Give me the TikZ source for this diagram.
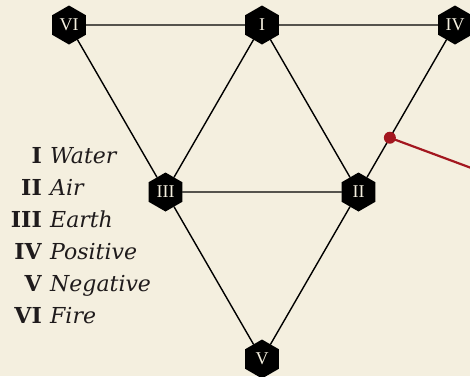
\documentclass[tikz,border=0pt]{standalone}
\usepackage{fontspec}
\setmainfont{DejaVu Serif}
\newfontfamily\hexfont{Liberation Serif}
\usetikzlibrary{shapes.geometric,calc}
\definecolor{Parchment}{HTML}{F4EFDF}
\definecolor{PinRed}{HTML}{A3171F}
\definecolor{LegendInk}{HTML}{1F1B1C}

\begin{document}
\begin{tikzpicture}[x=1pt,y=-1pt,line cap=round,
  hex/.style={regular polygon,regular polygon sides=6,shape border rotate=30,fill=black,text=Parchment,
    minimum size=39pt,inner sep=0pt,font=\hexfont\fontsize{18}{18}\selectfont},
  link/.style={line width=1.4pt},
  key/.style={inner sep=0pt,text=LegendInk}]
  \fill[Parchment] (0,0) rectangle (470,376); \useasboundingbox (0,0) rectangle (470,376);
  % hexagon corners of the triangle
  \node[hex] (VI) at (69,25) {VI}; \node[hex] (I) at (262,25) {I}; \node[hex] (IV) at (455,25) {IV};
  \node[hex] (III) at (165.5,192) {III}; \node[hex] (II) at (358.5,192) {II};
  \node[hex] (V) at (262,359) {V};
  \draw[link] (VI)--(I); \draw[link] (I)--(IV); \draw[link] (III)--(II);
  \draw[link] (VI)--(III); \draw[link] (III)--(V); \draw[link] (I)--(III);
  \draw[link] (I)--(II); \draw[link] (IV)--(II); \draw[link] (II)--(V);
  % red pin on the IV--II edge
  \coordinate (pin) at ($(IV)!.675!(II)$); \coordinate (lead) at (474,169);
  \draw[PinRed,line width=2.2pt] (pin)--(lead); \fill[PinRed] (pin) circle (6pt);
  % legend
  \foreach \num/\word [count=\k] in {I/Water,II/Air,III/Earth,IV/Positive,V/Negative,VI/Fire} {
    \node[key,anchor=base east,font=\bfseries\fontsize{22}{26}\selectfont] (num\k) at (42,131+32*\k) {\num};
    \node[key,anchor=base west,font=\itshape\fontsize{22}{26}\selectfont] (word\k) at (50,131+32*\k) {\word};
  }
\end{tikzpicture}
\end{document}
